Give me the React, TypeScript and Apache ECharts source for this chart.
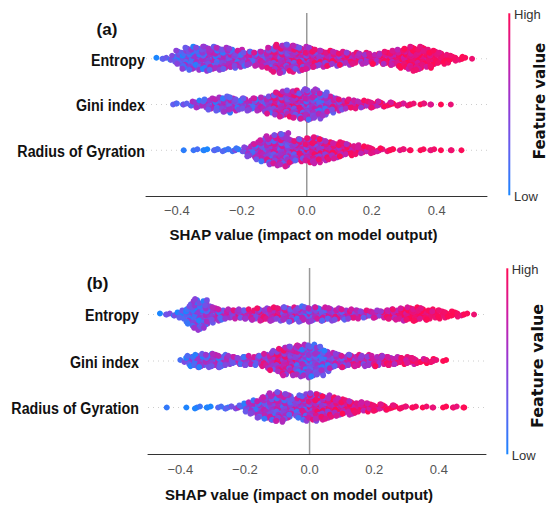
import React, { useEffect, useRef } from 'react';
import * as echarts from 'echarts';

// feature names, bottom (y = 0) to top (y = 2)
const FEATURES = ['Radius of Gyration', 'Gini index', 'Entropy'];
const X_TICKS = [-0.4, -0.2, 0, 0.2, 0.4];
const X_TITLE = 'SHAP value (impact on model output)';
const PANEL_TAGS = ['(a)', '(b)'];
const BAR_TEXTS = ['High', 'Low'];
const BAR_TITLE = 'Feature value';

// SHAP values are binned: 50 bins of width 0.02 starting at -0.48
const BIN_LO = -0.48;
const BIN_W = 0.02;

// ---- panel (a): number of points per bin, mean feature value per bin
const aEntropyCounts = [0,2,3,8,16,22,24,24,25,24,23,22,20,18,15,14,15,17,24,29,29,28,26,24,22,18,17,16,15,14,13,12,12,11,11,11,14,16,19,22,25,24,19,16,12,9,6,4,2,1];
const aEntropyColor = [0.1,0.1,0.15,0.2,0.25,0.3,0.3,0.35,0.35,0.4,0.4,0.4,0.42,0.45,0.45,0.5,0.5,0.5,0.55,0.6,0.62,0.62,0.6,0.6,0.65,0.65,0.7,0.7,0.7,0.7,0.72,0.72,0.75,0.75,0.78,0.8,0.8,0.82,0.85,0.88,0.9,0.9,0.9,0.92,0.93,0.95,0.95,0.95,0.95,0.95];
const aGiniCounts = [0,0,0,2,2,3,6,8,10,12,15,17,14,12,12,13,13,15,19,24,26,28,29,31,31,30,24,18,13,11,10,9,8,7,7,6,5,4,3,3,2,2,2,1,1,1,0,0,0,0];
const aGiniColor = [0.3,0.3,0.3,0.25,0.3,0.3,0.35,0.35,0.35,0.35,0.4,0.4,0.4,0.4,0.4,0.42,0.45,0.45,0.5,0.6,0.62,0.65,0.6,0.55,0.45,0.4,0.4,0.45,0.55,0.65,0.7,0.72,0.75,0.78,0.8,0.82,0.85,0.85,0.88,0.9,0.9,0.92,0.92,0.92,0.95,0.95,0.95,0.95,0.95,0.95];
const aRadiusCounts = [0,0,0,0,0,1,1,2,2,2,2,3,3,4,7,13,19,24,29,32,34,25,23,22,25,27,22,19,17,14,12,10,8,7,5,4,3,2,2,2,1,2,1,2,1,1,1,1,0,0];
const aRadiusColor = [0.05,0.05,0.05,0.05,0.05,0.05,0.05,0.08,0.08,0.1,0.1,0.12,0.15,0.2,0.3,0.4,0.45,0.45,0.5,0.5,0.55,0.55,0.55,0.6,0.65,0.65,0.7,0.72,0.75,0.78,0.8,0.8,0.85,0.85,0.88,0.9,0.9,0.92,0.92,0.95,0.95,0.95,0.95,0.95,0.95,0.95,0.95,0.95,0.95,0.95];

// ---- panel (b)
const bEntropyCounts = [0,2,3,4,10,20,31,28,18,14,11,10,9,10,11,11,13,13,14,14,14,15,16,15,14,14,14,13,12,11,10,9,8,7,8,9,10,11,13,14,14,12,11,9,8,6,5,3,2,1];
const bEntropyColor = [0.15,0.15,0.2,0.2,0.2,0.25,0.28,0.3,0.35,0.4,0.45,0.5,0.55,0.58,0.6,0.62,0.65,0.65,0.65,0.62,0.6,0.55,0.45,0.4,0.42,0.45,0.5,0.55,0.55,0.55,0.58,0.6,0.6,0.62,0.65,0.7,0.75,0.8,0.85,0.9,0.92,0.92,0.92,0.92,0.95,0.95,0.95,0.95,0.95,0.95];
const bGiniCounts = [0,0,0,0,3,11,13,14,14,14,13,10,8,9,10,10,11,15,20,26,29,30,31,33,32,29,21,16,14,13,12,12,12,11,11,10,9,8,8,7,6,5,4,3,2,0,0,0,0,0];
const bGiniColor = [0.3,0.3,0.3,0.3,0.25,0.3,0.3,0.35,0.35,0.38,0.4,0.4,0.42,0.45,0.45,0.5,0.55,0.6,0.62,0.68,0.7,0.65,0.45,0.35,0.3,0.3,0.35,0.4,0.45,0.55,0.6,0.62,0.65,0.7,0.72,0.75,0.78,0.8,0.85,0.88,0.9,0.9,0.92,0.92,0.95,0.95,0.95,0.95,0.95,0.95];
const bRadiusCounts = [0,0,1,0,1,0,3,1,2,0,3,3,3,4,10,15,21,25,28,30,26,16,24,27,28,26,24,20,18,15,13,11,10,8,7,6,5,4,3,2,2,1,2,1,2,1,2,1,1,0];
const bRadiusColor = [0.05,0.05,0.05,0.05,0.05,0.05,0.05,0.05,0.05,0.08,0.1,0.15,0.4,0.35,0.35,0.4,0.4,0.42,0.45,0.45,0.45,0.5,0.45,0.5,0.6,0.65,0.7,0.72,0.75,0.78,0.8,0.82,0.85,0.88,0.88,0.9,0.92,0.92,0.93,0.95,0.95,0.95,0.95,0.95,0.95,0.95,0.95,0.95,0.95,0.95];

// axis extents of the two panels
const A_X = [-0.495, 0.555];
const B_X = [-0.5, 0.546];

// fixed colour-mixing pattern (how far each dot's feature value sits from its bin mean)
const MIX = [0, 0.5, -0.45, 0.25, -0.3, 0.4, -0.2, 0.1, -0.5, 0.3, -0.1, 0.45];
const CMAP = ['#1a86ff', '#6060f0', '#9438d4', '#cd1ba5', '#ff0b55'];
const LAYER_STEP = 0.022; // vertical spacing of stacked dots, in row units

// radical-inverse (van der Corput) ordering used to spread dots inside a bin
function radInv(n: number, base: number) {
  let r = 0;
  let f = 1 / base;
  while (n > 0) {
    r += f * (n % base);
    n = Math.floor(n / base);
    f /= base;
  }
  return r;
}

function swarm(counts: number[], colors: number[], row: number) {
  const pts: number[][] = [];
  counts.forEach((n, i) => {
    const lo = BIN_LO + i * BIN_W;
    const m = colors[i];
    const s = 2.6 * m * (1 - m);
    for (let k = 0; k < n; k++) {
      const frac = (radInv(k + 1, 3) + i * 0.37) % 1;
      const cfrac = (radInv(k + 1, 5) + i * 0.29) % 1;
      const layer = Math.ceil(k / 2);
      const sign = k % 2 === 1 ? 1 : -1;
      const v = Math.min(1, Math.max(0, m + s * MIX[Math.floor(cfrac * MIX.length)]));
      pts.push([lo - 0.2 * BIN_W + 1.4 * BIN_W * frac, row + sign * layer * LAYER_STEP, v]);
    }
  });
  return pts;
}

const panelA = [
  ...swarm(aRadiusCounts, aRadiusColor, 0),
  ...swarm(aGiniCounts, aGiniColor, 1),
  ...swarm(aEntropyCounts, aEntropyColor, 2),
];
const panelB = [
  ...swarm(bRadiusCounts, bRadiusColor, 0),
  ...swarm(bGiniCounts, bGiniColor, 1),
  ...swarm(bEntropyCounts, bEntropyColor, 2),
];

const fmtTick = (v: number) => (Math.abs(v) < 1e-9 ? '0.0' : v.toFixed(1).replace('-', '\u2212'));

function mkX(idx: number, ext: number[], margin: number, gap: number, padR: number) {
  return {
    type: 'value',
    gridIndex: idx,
    min: ext[0],
    max: ext[1],
    axisLine: { show: true, onZero: false, lineStyle: { color: '#333', width: 1 } },
    axisTick: { show: false },
    splitLine: { show: false },
    axisLabel: {
      customValues: X_TICKS,
      formatter: fmtTick,
      margin,
      color: '#555',
      fontSize: 13,
      fontFamily: 'Liberation Sans, Arial, sans-serif',
    },
    name: X_TITLE,
    nameLocation: 'middle',
    nameGap: gap,
    nameTextStyle: {
      fontWeight: 'bold',
      fontSize: 15,
      color: '#111',
      fontFamily: 'Liberation Sans, Arial, sans-serif',
      padding: [0, padR, 0, 0],
    },
  };
}

function mkY(idx: number) {
  return {
    type: 'value',
    gridIndex: idx,
    min: -1,
    max: 3,
    interval: 1,
    axisLine: { show: false },
    axisTick: { show: false },
    splitLine: { show: false },
    axisLabel: { show: false },
  };
}

function scatter(idx: number, data: number[][]) {
  return {
    type: 'scatter',
    xAxisIndex: idx,
    yAxisIndex: idx,
    data,
    symbolSize: 6,
    large: false,
    progressive: 0,
    silent: true,
    z: 3,
    itemStyle: { opacity: 1 },
  };
}

function refLine(idx: number, data: number[][], color: string, width: number, type: any) {
  return {
    type: 'line',
    xAxisIndex: idx,
    yAxisIndex: idx,
    data,
    symbol: 'none',
    silent: true,
    z: 1,
    lineStyle: { color, width, type },
  };
}

function refLines(idx: number, ext: number[]) {
  return [
    ...[0, 1, 2].map((r) => refLine(idx, [[ext[0], r], [ext[1], r]], '#cccccc', 1, [1, 4])),
    refLine(idx, [[0, -1], [0, 3]], '#999999', 1.5, 'solid'),
  ];
}

const gradient = () =>
  new echarts.graphic.LinearGradient(0, 0, 0, 1, CMAP.slice().reverse().map((c, i) => ({ offset: i / (CMAP.length - 1), color: c })));

function txt(id: string, x: number, y: number, text: string, extra: any = {}, rotation = 0, scaleX = 1) {
  return {
    id,
    type: 'text',
    x,
    y,
    rotation,
    scaleX,
    silent: true,
    style: {
      text,
      fill: '#333',
      fontSize: 13,
      fontFamily: 'Liberation Sans, Arial, sans-serif',
      align: 'left',
      verticalAlign: 'middle',
      ...extra,
    },
  };
}

export default function App() {
  const ref = useRef<HTMLDivElement>(null);
  useEffect(() => {
    document.body.style.margin = '0';
    if (!ref.current) return;
    const chart = echarts.init(ref.current, undefined, { renderer: 'svg' });
    const tagStyle = { fill: '#111', fontSize: 17, fontWeight: 'bold', align: 'center' };
    const barTitleStyle = { fill: '#111', fontWeight: 'bold', fontFamily: 'DejaVu Sans, sans-serif', align: 'center' };
    const labelStyle = { fill: '#111', fontSize: 17, fontWeight: 'bold', align: 'right' };
    chart.setOption({
      animation: false,
      backgroundColor: '#ffffff',
      grid: [
        { left: 146, right: 63, top: 13, height: 183, outerBoundsMode: 'none', containLabel: false },
        { left: 148, right: 64, top: 268, height: 186, outerBoundsMode: 'none', containLabel: false },
      ],
      xAxis: [mkX(0, A_X, 8, 31, 26), mkX(1, B_X, 9, 33, 36)],
      yAxis: [mkY(0), mkY(1)],
      visualMap: {
        type: 'continuous',
        show: false,
        min: 0,
        max: 1,
        dimension: 2,
        seriesIndex: [0, 1],
        inRange: { color: CMAP },
      },
      series: [scatter(0, panelA), scatter(1, panelB), ...refLines(0, A_X), ...refLines(1, B_X)],
      graphic: [
        txt('tagA', 107, 29, PANEL_TAGS[0], tagStyle),
        txt('tagB', 97.5, 283, PANEL_TAGS[1], tagStyle),
        { id: 'barA', type: 'rect', silent: true, shape: { x: 508.3, y: 13.3, width: 2, height: 182 }, style: { fill: gradient() } },
        { id: 'barB', type: 'rect', silent: true, shape: { x: 506.3, y: 268.3, width: 2, height: 186 }, style: { fill: gradient() } },
        txt('hiA', 514, 14, BAR_TEXTS[0]),
        txt('loA', 514, 196, BAR_TEXTS[1]),
        txt('hiB', 511.7, 269, BAR_TEXTS[0]),
        txt('loB', 511.7, 455, BAR_TEXTS[1]),
        txt('ftA', 540, 101, BAR_TITLE, { ...barTitleStyle, fontSize: 15 }, Math.PI / 2),
        txt('ftB', 537, 366, BAR_TITLE, { ...barTitleStyle, fontSize: 16 }, Math.PI / 2),
      ],
    });
    // feature labels, placed through the axes' own scales, drawn condensed
    const labels: any[] = [];
    [
      { idx: 0, ext: A_X, gap: 1 },
      { idx: 1, ext: B_X, gap: 9 },
    ].forEach(({ idx, ext, gap }) => {
      FEATURES.forEach((name, r) => {
        const p = chart.convertToPixel({ xAxisIndex: idx, yAxisIndex: idx }, [ext[0], r]) as number[];
        labels.push(txt(`lab${idx}_${r}`, p[0] - gap, p[1] + 1, name, labelStyle, 0, 0.84));
      });
    });
    chart.setOption({ graphic: labels });
    return () => chart.dispose();
  }, []);
  return <div ref={ref} style={{ width: 550, height: 513 }} />;
}
